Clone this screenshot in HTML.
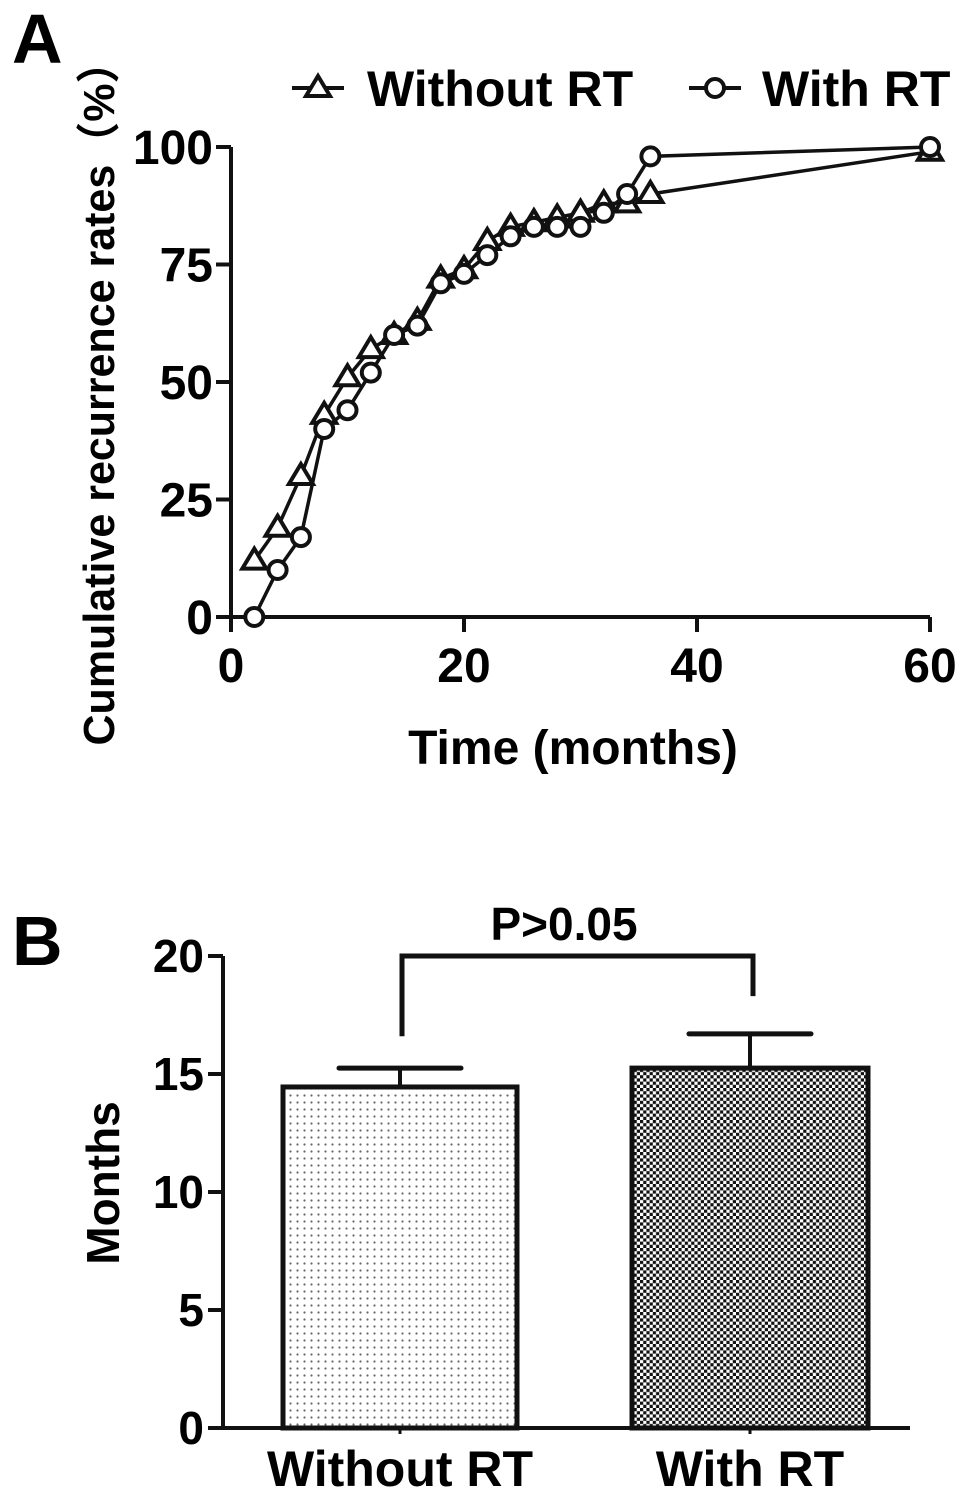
<!DOCTYPE html>
<html><head><meta charset="utf-8"><style>
body{margin:0;background:#fff}
svg{display:block;font-family:"Liberation Sans",Arial,sans-serif;font-weight:bold}
</style></head><body>
<svg id="s" width="969" height="1502" viewBox="0 0 969 1502" xmlns="http://www.w3.org/2000/svg">
<defs>
<pattern id="dots" width="7" height="7" patternUnits="userSpaceOnUse"><rect width="7" height="7" fill="#fff"/><circle cx="3.5" cy="3.5" r="1.1" fill="#666"/></pattern>
<pattern id="check" width="6.4" height="6.4" patternUnits="userSpaceOnUse"><rect width="6.4" height="6.4" fill="#fff"/><rect width="3.2" height="3.2" fill="#111"/><rect x="3.2" y="3.2" width="3.2" height="3.2" fill="#111"/></pattern>
</defs>
<g id="A"></g>
<g id="B"></g>
</svg>
<script>
const months=[2,4,6,8,10,12,14,16,18,20,22,24,26,28,30,32,34,36,60];
const withoutRT=[12,19,30,43,51,57,60,63,72,74,80,83,84,85,86,88,88,90,99];
const withRT=[0,10,17,40,44,52,60,62,71,73,77,81,83,83,83,86,90,98,100];
const xTicksA=[0,20,40,60];
const yTicksA=[0,25,50,75,100];
const barCats=["Without RT","With RT"];
const barMeans=[14.45,15.25];
const barErr=[0.8,1.45];
const yTicksB=[0,5,10,15,20];
const NS="http://www.w3.org/2000/svg";
function mk(p,t,a,txt){const e=document.createElementNS(NS,t);for(const k in a)e.setAttribute(k,a[k]);if(txt!==undefined)e.textContent=txt;p.appendChild(e);return e;}
const A=document.getElementById('A'),B=document.getElementById('B');
const xA=v=>231+v*(930-231)/60, yA=v=>617-v*4.7;
// panel A
let t=mk(A,'text',{x:12,y:63,'font-size':70},'A');

let ax=mk(A,'path',{d:`M231 ${yA(100)} V617 H930`,stroke:'#111','stroke-width':4,fill:'none'});

yTicksA.forEach(v=>{
 let l=mk(A,'line',{x1:216,x2:231,y1:yA(v),y2:yA(v),stroke:'#111','stroke-width':4});
 
 let tx=mk(A,'text',{x:213,y:yA(v)+17,'font-size':48,'text-anchor':'end'},v);
 
});
xTicksA.forEach(v=>{
 let l=mk(A,'line',{x1:xA(v),x2:xA(v),y1:617,y2:632,stroke:'#111','stroke-width':4});
 
 let tx=mk(A,'text',{x:xA(v),y:682,'font-size':48,'text-anchor':'middle'},v);
 
});
t=mk(A,'text',{x:573,y:764,'font-size':48,'text-anchor':'middle'},'Time (months)');

t=mk(A,'text',{x:0,y:0,'font-size':44,'text-anchor':'middle',textLength:705,lengthAdjust:'spacingAndGlyphs',transform:'translate(114,393) rotate(-90)',style:'font-family:"Liberation Sans","Noto Sans CJK SC",sans-serif'},'Cumulative recurrence rates（%）');

function tri(g,x,y){return mk(g,'path',{d:`M${x} ${y-12} L${x+12} ${y+8} L${x-12} ${y+8}Z`,fill:'#fff',stroke:'#111','stroke-width':4});}
function circ(g,x,y){return mk(g,'circle',{cx:x,cy:y,r:9,fill:'#fff',stroke:'#111','stroke-width':4});}
[[withoutRT,tri,'series-without-rt'],[withRT,circ,'series-with-rt']].forEach(([d,f,n])=>{
 const g=mk(A,'g',{});
 mk(g,'polyline',{points:months.map((m,i)=>xA(m)+','+yA(d[i])).join(' '),fill:'none',stroke:'#111','stroke-width':3.5});
 months.forEach((m,i)=>{const p=f(g,xA(m),yA(d[i]));});
});
let lg=mk(A,'g',{});
mk(lg,'line',{x1:292,x2:344,y1:88,y2:88,stroke:'#111','stroke-width':4});tri(lg,318,88);
t=mk(lg,'text',{x:367,y:106,'font-size':50},'Without RT');
mk(lg,'line',{x1:689,x2:741,y1:88,y2:88,stroke:'#111','stroke-width':4});circ(lg,715,88);
t=mk(lg,'text',{x:762,y:106,'font-size':50},'With RT');
// panel B
const yB=v=>1428-v*23.6;
t=mk(B,'text',{x:12,y:965,'font-size':70},'B');
yTicksB.forEach(v=>{
 let l=mk(B,'line',{x1:208,x2:223,y1:yB(v),y2:yB(v),stroke:'#111','stroke-width':4});
 
 let tx=mk(B,'text',{x:204,y:yB(v)+16,'font-size':46,'text-anchor':'end'},v);
 
});
const bx=[[283,517],[632,868]],fills=['url(#dots)','url(#check)'];
barCats.forEach((c,i)=>{
 const [x0,x1]=bx[i],cx=(x0+x1)/2;
 let e=mk(B,'line',{x1:cx,x2:cx,y1:yB(barMeans[i]),y2:yB(barMeans[i]+barErr[i]),stroke:'#111','stroke-width':4});
 
 e=mk(B,'line',{x1:cx-61,x2:cx+61,y1:yB(barMeans[i]+barErr[i]),y2:yB(barMeans[i]+barErr[i]),stroke:'#111','stroke-width':5,'stroke-linecap':'round'});
 
 let r=mk(B,'rect',{x:x0,y:yB(barMeans[i]),width:x1-x0,height:yB(0)-yB(barMeans[i]),fill:fills[i],stroke:'#111','stroke-width':5});
 
 let tk=mk(B,'line',{x1:cx,x2:cx,y1:1428,y2:1434,stroke:'#111','stroke-width':3});
 
 let tx=mk(B,'text',{x:cx,y:1486,'font-size':50,'text-anchor':'middle'},c);
 
});
ax=mk(B,'path',{d:`M223 ${yB(20)} V1428 H910`,stroke:'#111','stroke-width':4,fill:'none'});

t=mk(B,'text',{x:0,y:0,'font-size':46,'text-anchor':'middle',transform:'translate(119,1183) rotate(-90)'},'Months');

let br=mk(B,'path',{d:`M402 ${yB(16.6)} V${yB(20)} H753 V${yB(18.3)}`,fill:'none',stroke:'#111','stroke-width':5});

t=mk(B,'text',{x:564,y:940,'font-size':46,'text-anchor':'middle'},'P>0.05');

</script>
</body></html>
